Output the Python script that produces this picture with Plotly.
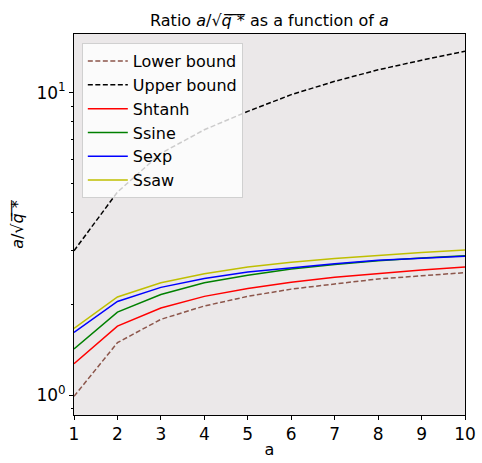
import plotly.graph_objects as go

a_values = [1, 2, 3, 4, 5, 6, 7, 8, 9, 10]

lower_bound = [0.99, 1.49, 1.78, 1.97, 2.12, 2.24, 2.33, 2.42, 2.48, 2.54]
upper_bound = [3.0, 4.69, 6.3, 7.54, 8.67, 9.85, 10.9, 11.9, 12.8, 13.7]
shtanh = [1.27, 1.69, 1.94, 2.12, 2.25, 2.36, 2.45, 2.52, 2.59, 2.65]
ssine = [1.42, 1.88, 2.15, 2.35, 2.49, 2.61, 2.70, 2.78, 2.84, 2.89]
sexp = [1.61, 2.04, 2.27, 2.43, 2.55, 2.64, 2.72, 2.79, 2.84, 2.88]
ssaw = [1.66, 2.11, 2.35, 2.52, 2.65, 2.75, 2.83, 2.90, 2.96, 3.02]

y_tickvals = [1, 10]
y_ticktext = ["10<sup>0</sup>", "10<sup>1</sup>"]
y_minor = [0.9, 2, 3, 4, 5, 6, 7, 8, 9, 20]

series = [
    ("Lower bound", lower_bound, "#8c564b", "5px,2.5px"),
    ("Upper bound", upper_bound, "black", "5px,2.5px"),
    ("Shtanh", shtanh, "#ff0000", "solid"),
    ("Ssine", ssine, "#008000", "solid"),
    ("Sexp", sexp, "#0000ff", "solid"),
    ("Ssaw", ssaw, "#bfbf00", "solid"),
]

fig = go.Figure()
for name, vals, color, dash in series:
    fig.add_trace(go.Scatter(
        x=a_values, y=vals, mode="lines", name=name,
        line=dict(color=color, width=1.5, dash=dash),
    ))

font = "DejaVu Sans"
fig.update_layout(
    width=482, height=463,
    margin=dict(l=74, r=17, t=34, b=48, autoexpand=False),
    paper_bgcolor="white",
    plot_bgcolor="#ebe8e9",
    font=dict(family=font, size=16, color="black"),
    title=dict(
        text="Ratio <i>a</i>/√<i>q̅</i> ̅*̅ as a function of <i>a</i>",
        x=0.559, xanchor="center", y=0.955, yanchor="middle",
        font=dict(size=16),
    ),
    legend=dict(
        x=0.02, y=0.976, xanchor="left", yanchor="top",
        bgcolor="rgba(255,255,255,0.8)", bordercolor="#d0d0d0", borderwidth=1,
        font=dict(size=16), tracegroupgap=0, itemwidth=40,
    ),
    showlegend=True,
)

fig.update_xaxes(
    range=[1, 10], tickvals=a_values, ticks="outside", ticklen=4,
    tickcolor="black", showline=True, linecolor="black", linewidth=1,
    mirror=True, showgrid=False, zeroline=False, automargin=False,
    tickfont=dict(size=17),
    title=dict(text="a", standoff=0, font=dict(size=16)),
)
fig.update_yaxes(
    type="log", range=[-0.066, 1.194], tickvals=y_tickvals, ticktext=y_ticktext,
    ticks="outside", ticklen=4, tickcolor="black", showline=True,
    linecolor="black", linewidth=1, mirror=True, showgrid=False, zeroline=False,
    automargin=False, tickfont=dict(size=17),
    minor=dict(tickvals=y_minor, ticks="outside", ticklen=2, tickcolor="black", showgrid=False),
    title=dict(text="<i>a</i>/√<i>q̅</i> ̅*̅", standoff=8, font=dict(size=16)),
)

fig.write_html("out.html", config={"displayModeBar": False},
               post_script="document.body.style.margin='0';")
